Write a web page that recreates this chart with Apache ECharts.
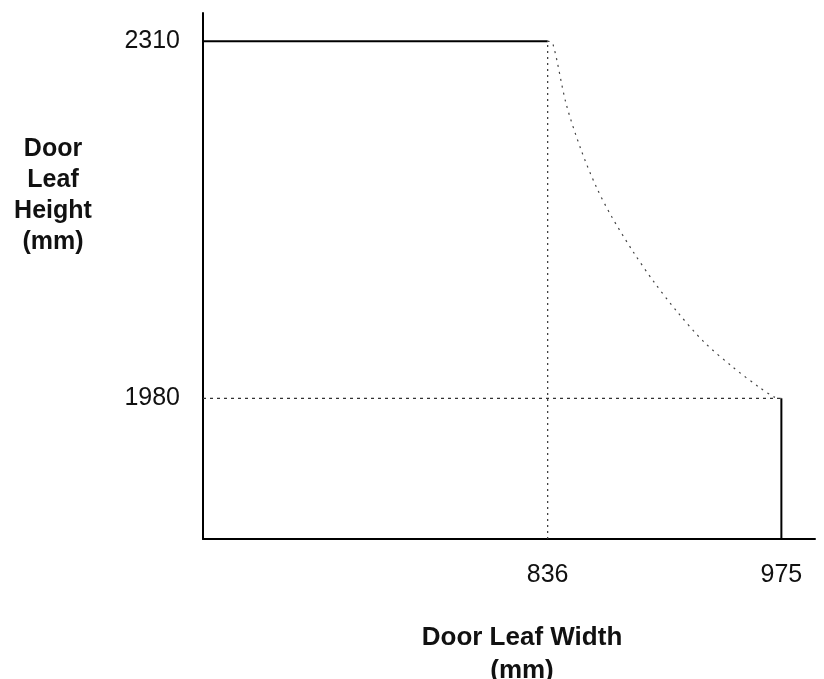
<!DOCTYPE html>
<html>
<head>
<meta charset="utf-8">
<script src="https://cdn.jsdelivr.net/npm/echarts@6/dist/echarts.min.js"></script>
<style>
html, body { margin: 0; padding: 0; background: #fff; }
#main { width: 824px; height: 679px; }
</style>
</head>
<body>
<div id="main"></div>
<script>
// ticks that are labelled on each axis
const xTicks = [836, 975];
const yTicks = [1980, 2310];
// axis extent
const xRange = [631, 995];
const yRange = [1850, 2336];

// outline of the allowed door leaf sizes
const topEdge = [[631, 2310], [836, 2310]];
const rightEdge = [[975, 1850], [975, 1980]];
const widthGuide = [[836, 1850], [836, 2310]];
const heightGuide = [[631, 1980], [975, 1980]];
// the dotted curve between the two corners
const curve = [
  [836, 2310], [839, 2308], [847, 2252], [856, 2209], [865, 2175],
  [874, 2148], [887, 2115], [899, 2088], [913, 2060], [929, 2032],
  [946, 2009], [962, 1990], [971, 1981], [975, 1980]
];

const font = '"Liberation Sans", Arial, Helvetica, sans-serif';

function lineSeries(data, type, width, color) {
  return {
    type: 'line',
    data: data,
    symbol: 'none',
    silent: true,
    animation: false,
    lineStyle: { color: color, width: width, type: type }
  };
}

const chart = echarts.init(document.getElementById('main'));
const curveSeries = lineSeries(curve, [2, 5], 1.2, '#444');
curveSeries.smooth = 0.3;

chart.setOption({
  animation: false,
  grid: { left: 203, right: 9, top: 13, bottom: 140, outerBoundsMode: 'none', containLabel: false },
  xAxis: {
    type: 'value',
    min: xRange[0],
    max: xRange[1],
    name: 'Door Leaf Width\n(mm)',
    nameLocation: 'middle',
    nameGap: 82,
    nameTextStyle: {
      fontFamily: font, fontSize: 26, fontWeight: 'bold', color: '#111',
      lineHeight: 33, padding: [0, 0, 0, 26]
    },
    axisLine: { show: true, lineStyle: { color: '#000', width: 2 } },
    axisTick: { show: false },
    splitLine: { show: false },
    axisLabel: {
      customValues: xTicks,
      formatter: v => String(v),
      margin: 24,
      fontFamily: font, fontSize: 25, color: '#111'
    }
  },
  yAxis: {
    type: 'value',
    min: yRange[0],
    max: yRange[1],
    axisLine: { show: true, lineStyle: { color: '#000', width: 2 } },
    axisTick: { show: false },
    splitLine: { show: false },
    axisLabel: {
      customValues: yTicks,
      formatter: v => String(v),
      margin: 23,
      fontFamily: font, fontSize: 25, color: '#111'
    }
  },
  graphic: [{
    type: 'text',
    x: 53,
    y: 134,
    style: {
      text: 'Door\nLeaf\nHeight\n(mm)',
      font: 'bold 25px ' + font,
      fill: '#111',
      lineHeight: 31,
      align: 'center',
      verticalAlign: 'top'
    }
  }],
  series: [
    lineSeries(topEdge, 'solid', 2, '#000'),
    lineSeries(rightEdge, 'solid', 2, '#000'),
    lineSeries(widthGuide, [2, 4], 1.2, '#333'),
    lineSeries(heightGuide, [3, 4], 1.2, '#333'),
    curveSeries
  ]
});
</script>
</body>
</html>
